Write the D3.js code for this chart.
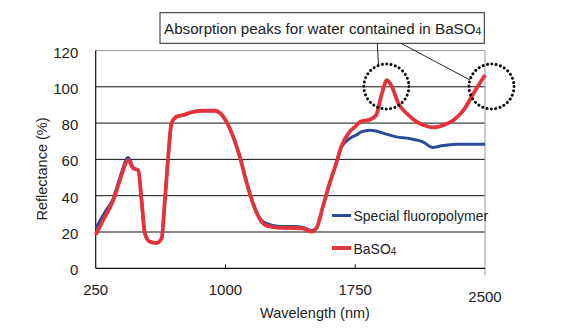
<!DOCTYPE html>
<html>
<head>
<meta charset="utf-8">
<script src="https://cdn.jsdelivr.net/npm/d3@7"></script>
<style>
  body { margin: 0; background: #fff; }
  text { font-family: "Liberation Sans", Arial, sans-serif; fill: #222; }
</style>
</head>
<body>
<script>
// wavelength (nm) / reflectance (%)
const wlBaso4 = [250, 304, 352, 390, 438, 467, 496, 515, 534, 563, 602, 631, 650, 669, 688, 717, 755, 813, 871, 938, 967, 1025, 1083, 1121, 1159, 1208, 1237, 1313, 1400, 1448, 1496, 1525, 1563, 1602, 1640, 1669, 1717, 1750, 1779, 1837, 1871, 1904, 1933, 1962, 2000, 2048, 2106, 2164, 2202, 2260, 2317, 2375, 2433, 2500];
const rBaso4  = [18.5, 28.4, 37.6, 48.6, 59.6, 55, 54, 37.6, 19.3, 14.6, 14, 16.5, 37.6, 61.4, 79.8, 83.5, 84.4, 86.2, 86.8, 86.8, 85.7, 77, 61.4, 47.7, 35.8, 25.7, 23.5, 22.3, 22.2, 22, 20.2, 22, 33.9, 46.8, 57.8, 67, 75.2, 78, 80.7, 82, 84.4, 96.3, 103.6, 100, 90.8, 85.3, 80.7, 78.3, 77.6, 78.9, 81.6, 87, 96.3, 106.5];

const wlFluoro = [250, 304, 352, 390, 438, 467, 496, 515, 534, 563, 602, 631, 650, 669, 688, 717, 755, 813, 871, 938, 967, 1025, 1083, 1121, 1159, 1208, 1237, 1313, 1400, 1448, 1496, 1525, 1563, 1602, 1640, 1669, 1717, 1756, 1785, 1833, 1871, 1929, 1987, 2063, 2140, 2198, 2237, 2333, 2420, 2500];
const rFluoro  = [22, 31, 38.6, 50, 61, 55.5, 54, 37.6, 19.3, 14.6, 14, 16.5, 37.6, 61.4, 79.8, 83.5, 84.4, 86.2, 86.8, 86.8, 85.7, 77, 61.4, 47.7, 35.8, 26.5, 24.7, 23, 23, 22.5, 20.8, 22, 33.9, 46.8, 57.8, 66.5, 71.5, 73.4, 75.2, 76.1, 75.7, 73.9, 72.4, 71.5, 69.7, 66.6, 67.3, 68.4, 68.4, 68.3];

const xTicks = [250, 1000, 1750, 2500];
const yTicks = [0, 20, 40, 60, 80, 100, 120];
const seriesNames = ["Special fluoropolymer", "BaSO4"];
const seriesColors = ["#2a4c9a", "#e5333b"];

const W = 573, H = 332;
const svg = d3.select("body").append("svg")
    .attr("width", W)
    .attr("height", H);

const x = d3.scaleLinear().domain([250, 2500]).range([95.7, 485]);
const y = d3.scaleLinear().domain([0, 120]).range([268.3, 50.5]);

// gridlines
svg.append("g")
    .selectAll("line")
    .data(yTicks.filter(d => d > 0 && d < 120))
    .join("line")
    .attr("x1", x(250)).attr("x2", x(2500))
    .attr("y1", d => y(d)).attr("y2", d => y(d))
    .attr("stroke", "#111").attr("stroke-width", 1);

// top + right border (gray)
svg.append("line")
    .attr("x1", x(250)).attr("x2", x(2500))
    .attr("y1", y(120)).attr("y2", y(120))
    .attr("stroke", "#999").attr("stroke-width", 1);
svg.append("line")
    .attr("x1", x(2500)).attr("x2", x(2500))
    .attr("y1", y(120)).attr("y2", y(0) + 7)
    .attr("stroke", "#999").attr("stroke-width", 1);

// axes
svg.append("line")
    .attr("x1", x(250)).attr("x2", x(250))
    .attr("y1", y(120)).attr("y2", y(0))
    .attr("stroke", "#111").attr("stroke-width", 1.2);
svg.append("line")
    .attr("x1", x(250)).attr("x2", x(2500))
    .attr("y1", y(0)).attr("y2", y(0))
    .attr("stroke", "#111").attr("stroke-width", 1.2);

// inward x ticks
svg.append("g")
    .selectAll("line")
    .data(xTicks.slice(1, 3))
    .join("line")
    .attr("x1", d => x(d)).attr("x2", d => x(d))
    .attr("y1", y(0)).attr("y2", y(0) - 4)
    .attr("stroke", "#111");

// tick labels
svg.append("g")
    .selectAll("text")
    .data(xTicks)
    .join("text")
    .attr("x", d => x(d))
    .attr("y", d => d === 2500 ? 302 : 295)
    .attr("text-anchor", "middle")
    .attr("font-size", 15)
    .text(d => d);

svg.append("g")
    .selectAll("text")
    .data(yTicks)
    .join("text")
    .attr("x", 78.3)
    .attr("y", d => y(d) + 7)
    .attr("text-anchor", "end")
    .attr("font-size", 15)
    .text(d => d);

// axis titles
svg.append("text")
    .attr("x", 315).attr("y", 318)
    .attr("text-anchor", "middle")
    .attr("font-size", 14.5)
    .text("Wavelength (nm)");
svg.append("text")
    .attr("transform", "translate(47,169) rotate(-90)")
    .attr("text-anchor", "middle")
    .attr("font-size", 14.5)
    .text("Reflectance (%)");

// lines
const line = d3.line()
    .x(d => x(d[0]))
    .y(d => y(d[1]))
    .curve(d3.curveMonotoneX);

const fluoro = wlFluoro.map((w, i) => [w, rFluoro[i]]);
const baso4 = wlBaso4.map((w, i) => [w, rBaso4[i]]);

svg.append("path")
    .attr("d", line(fluoro))
    .attr("fill", "none")
    .attr("stroke", seriesColors[0])
    .attr("stroke-width", 3)
    .attr("stroke-linejoin", "round");
svg.append("path")
    .attr("d", line(baso4))
    .attr("fill", "none")
    .attr("stroke", seriesColors[1])
    .attr("stroke-width", 3.8)
    .attr("stroke-linejoin", "round");

// legend
const legend = svg.append("g");
seriesNames.forEach((name, i) => {
    const ly = 215.5 + i * 32.5;
    legend.append("line")
        .attr("x1", 332).attr("x2", 351)
        .attr("y1", ly).attr("y2", ly)
        .attr("stroke", seriesColors[i])
        .attr("stroke-width", i === 0 ? 3 : 4);
    const t = legend.append("text")
        .attr("x", 353.5).attr("y", ly + 5.5)
        .attr("font-size", 14);
    if (name === "BaSO4") {
        t.append("tspan").text("BaSO");
        t.append("tspan").attr("font-size", 10).attr("dy", 1).text("4");
    } else {
        t.text(name);
    }
});

// annotation
svg.append("rect")
    .attr("x", 160).attr("y", 12.7)
    .attr("width", 324.3).attr("height", 30.6)
    .attr("fill", "#fff")
    .attr("stroke", "#222").attr("stroke-width", 1);
const ann = svg.append("text")
    .attr("x", 164).attr("y", 33.5)
    .attr("font-size", 15.2);
ann.append("tspan").text("Absorption peaks for water contained in BaSO");
ann.append("tspan").attr("font-size", 10.5).attr("dy", 1).text("4");

svg.append("line")
    .attr("x1", 377.3).attr("y1", 43.3)
    .attr("x2", 378.5).attr("y2", 66)
    .attr("stroke", "#222");
svg.append("line")
    .attr("x1", 401).attr("y1", 43.3)
    .attr("x2", 470).attr("y2", 80)
    .attr("stroke", "#222");

// dotted circles around the water peaks
const peaks = [1933, 2500];
svg.append("g")
    .selectAll("circle")
    .data(peaks)
    .join("circle")
    .attr("cx", d => x(d) + (d === 2500 ? 6.5 : -0.5))
    .attr("cy", 86.5)
    .attr("r", 22.5)
    .attr("fill", "none")
    .attr("stroke", "#111")
    .attr("stroke-width", 3)
    .attr("stroke-dasharray", "0.1 4.3")
    .attr("stroke-linecap", "round");
</script>
</body>
</html>
